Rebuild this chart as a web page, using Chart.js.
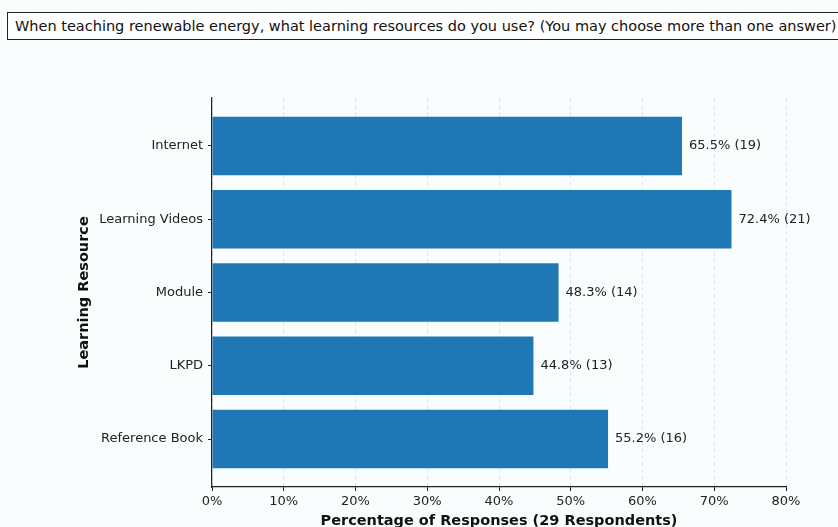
<!DOCTYPE html>
<html>
<head>
<meta charset="utf-8">
<title>Learning resources</title>
<script src="https://cdn.jsdelivr.net/npm/chart.js@4.4.1/dist/chart.umd.min.js"></script>
<style>
    html, body {
        margin: 0;
        padding: 0;
        background: #f9fdfe;
        overflow: hidden;
    }
    #wrap {
        position: relative;
        width: 838px;
        height: 527px;
    }
    #question {
        position: absolute;
        left: 7px;
        top: 12px;
        width: 840px;
        height: 26px;
        border: 1.5px solid #222;
        background: #ffffff;
        font-family: "DejaVu Sans", sans-serif;
        font-size: 14.5px;
        line-height: 26px;
        padding-left: 7px;
        color: #111;
        white-space: nowrap;
        box-sizing: content-box;
        z-index: 2;
    }
    canvas {
        position: absolute;
        left: 0;
        top: 0;
    }
</style>
</head>
<body>
<div id="wrap">
    <div id="question">When teaching renewable energy, what learning resources do you use? (You may choose more than one answer)</div>
    <canvas id="resourceChart" width="838" height="527"></canvas>
</div>

<script>
// ==================== DATA ====================
const resources = ['Internet', 'Learning Videos', 'Module', 'LKPD', 'Reference Book'];
const percentages = [65.5, 72.4, 48.3, 44.8, 55.2];
const respondents = [19, 21, 14, 13, 16];
const xTicks = [0, 10, 20, 30, 40, 50, 60, 70, 80];

const FONT = '"DejaVu Sans", sans-serif';

// ==================== VALUE LABELS PLUGIN ====================
const valueLabels = {
    id: 'valueLabels',
    afterDatasetsDraw(chart) {
        const ctx = chart.ctx;
        const meta = chart.getDatasetMeta(0);
        ctx.save();
        ctx.font = '13px ' + FONT;
        ctx.fillStyle = '#222';
        ctx.textAlign = 'left';
        ctx.textBaseline = 'middle';
        meta.data.forEach((bar, i) => {
            const text = percentages[i].toFixed(1) + '% (' + respondents[i] + ')';
            ctx.fillText(text, bar.x + 7, bar.y);
        });
        ctx.restore();
    }
};

// ==================== BUILD CHART ====================
const ctx = document.getElementById('resourceChart').getContext('2d');

new Chart(ctx, {
    type: 'bar',
    data: {
        datasets: [{
            data: percentages.map((v, i) => ({ x: v, y: i })),
            backgroundColor: '#1f77b4',
            borderWidth: 0,
            barPercentage: 0.8,
            categoryPercentage: 1.0
        }]
    },
    plugins: [valueLabels],
    options: {
        indexAxis: 'y',
        responsive: false,
        animation: false,
        events: [],
        layout: {
            padding: { top: 98, right: 52, bottom: 0, left: 0 }
        },
        plugins: {
            legend: { display: false },
            tooltip: { enabled: false }
        },
        scales: {
            x: {
                type: 'linear',
                min: 0,
                max: 80,
                afterBuildTicks: (scale) => {
                    scale.ticks = xTicks.map(v => ({ value: v }));
                },
                afterFit: (scale) => {
                    scale.height = 40;
                },
                ticks: {
                    callback: (v) => v + '%',
                    color: '#222',
                    font: { family: FONT, size: 13 },
                    padding: 3,
                    maxRotation: 0
                },
                grid: {
                    color: '#dfe5ef',
                    lineWidth: 1,
                    tickColor: '#222',
                    tickLength: 4,
                    tickWidth: 1,
                    tickBorderDash: []
                },
                border: {
                    display: true,
                    color: '#222',
                    width: 1.2,
                    dash: [4, 3]
                },
                title: {
                    display: true,
                    text: 'Percentage of Responses (29 Respondents)',
                    color: '#111',
                    font: { family: FONT, size: 14.5, weight: 'bold' },
                    padding: { top: 0, bottom: -3 }
                }
            },
            y: {
                type: 'linear',
                reverse: true,
                offset: false,
                min: -0.655,
                max: resources.length - 1 + 0.655,
                afterBuildTicks: (scale) => {
                    scale.ticks = resources.map((_, i) => ({ value: i }));
                },
                afterFit: (scale) => {
                    scale.width = 212;
                },
                ticks: {
                    callback: (v) => resources[v],
                    color: '#222',
                    font: { family: FONT, size: 13 },
                    padding: 5
                },
                grid: {
                    offset: false,
                    drawOnChartArea: false,
                    tickColor: '#222',
                    tickLength: 4,
                    tickWidth: 1
                },
                border: {
                    display: true,
                    color: '#222',
                    width: 1.2
                },
                title: {
                    display: true,
                    text: 'Learning Resource',
                    color: '#111',
                    font: { family: FONT, size: 14.5, weight: 'bold' },
                    padding: { top: 76, bottom: 0 }
                }
            }
        }
    }
});
</script>
</body>
</html>
